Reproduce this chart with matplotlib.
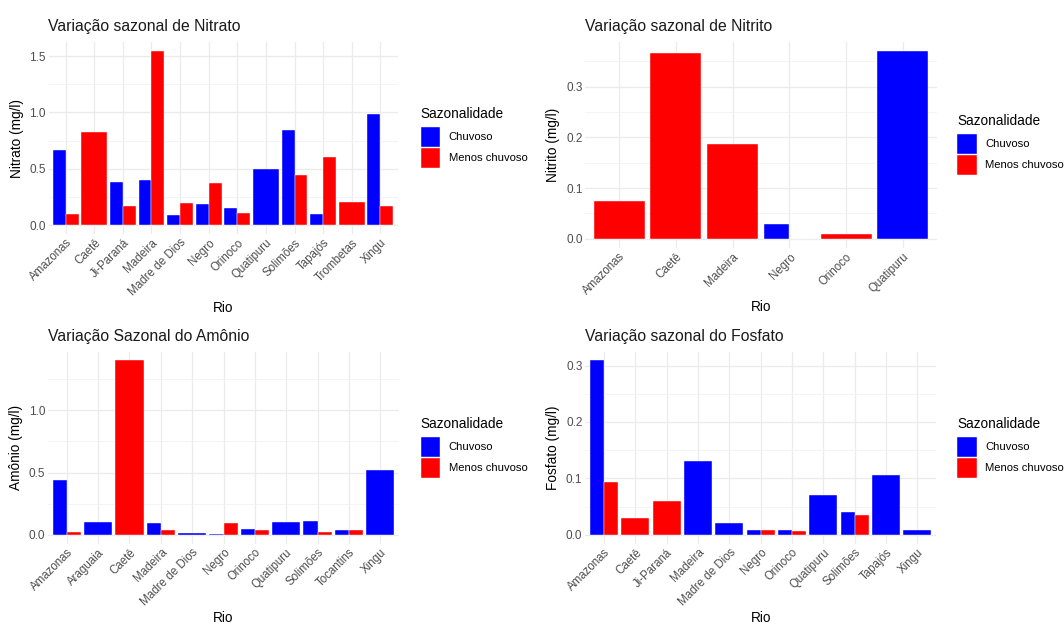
import numpy as np
import matplotlib.pyplot as plt
from matplotlib.patches import Rectangle

plt.rcParams['font.family'] = ['Liberation Sans', 'DejaVu Sans']

# dados (None = sem medição para a estação)
rios_nitrato = ['Amazonas', 'Caetê', 'Ji-Paraná', 'Madeira', 'Madre de Dios', 'Negro',
                'Orinoco', 'Quatipuru', 'Solimões', 'Tapajós', 'Trombetas', 'Xingu']
nitrato_chuvoso = [0.666, None, 0.38, 0.404, 0.094, 0.189, 0.150, 0.501, 0.846, 0.10, None, 0.99]
nitrato_menos = [0.103, 0.831, 0.171, 1.547, 0.195, 0.371, 0.112, None, 0.448, 0.601, 0.203, 0.171]

rios_nitrito = ['Amazonas', 'Caetê', 'Madeira', 'Negro', 'Orinoco', 'Quatipuru']
nitrito_chuvoso = [None, None, None, 0.029, None, 0.370]
nitrito_menos = [0.0745, 0.366, 0.1875, 0.0, 0.0095, None]

rios_amonio = ['Amazonas', 'Araguaia', 'Caetê', 'Madeira', 'Madre de Dios', 'Negro',
               'Orinoco', 'Quatipuru', 'Solimões', 'Tocantins', 'Xingu']
amonio_chuvoso = [0.437, 0.107, None, 0.093, 0.013, 0.008, 0.048, 0.107, 0.112, 0.043, 0.517]
amonio_menos = [0.024, None, 1.397, 0.037, None, 0.099, 0.037, None, 0.024, 0.037, None]

rios_fosfato = ['Amazonas', 'Caetê', 'Ji-Paraná', 'Madeira', 'Madre de Dios', 'Negro',
                'Orinoco', 'Quatipuru', 'Solimões', 'Tapajós', 'Xingu']
fosfato_chuvoso = [0.309, None, None, 0.131, 0.0206, 0.0094, 0.0094, 0.070, 0.0407, 0.1067, 0.0094]
fosfato_menos = [0.093, 0.0306, 0.0607, None, None, 0.0094, 0.0077, None, 0.035, None, None]

cor_chuvoso = '#0000FF'
cor_menos = '#FF0000'
cinza = '#4D4D4D'


def painel(ax, rios, chuvoso, menos, titulo, ylabel, yticks, minor):
    for i, (c, m) in enumerate(zip(chuvoso, menos)):
        if c is not None and m is not None:
            ax.bar(i - 0.225, c, width=0.45, color=cor_chuvoso, edgecolor='white', linewidth=0.3, zorder=3)
            ax.bar(i + 0.225, m, width=0.45, color=cor_menos, edgecolor='white', linewidth=0.3, zorder=3)
        elif c is not None:
            ax.bar(i, c, width=0.9, color=cor_chuvoso, edgecolor='white', linewidth=0.3, zorder=3)
        elif m is not None:
            ax.bar(i, m, width=0.9, color=cor_menos, edgecolor='white', linewidth=0.3, zorder=3)
    n = len(rios)
    ax.set_xlim(-0.6, n - 0.4)
    vmax = max(v for v in chuvoso + menos if v is not None)
    ax.set_ylim(-0.05 * vmax, 1.05 * vmax)
    ax.set_xticks(range(n))
    ax.set_xticklabels(rios, rotation=45, ha='right', rotation_mode='anchor',
                       fontsize=8.3, color=cinza)
    ax.set_yticks(yticks)
    ax.set_yticklabels([f'{t:.1f}' for t in yticks], fontsize=8.5, color=cinza)
    ax.set_yticks(minor, minor=True)
    ax.tick_params(axis='both', which='both', length=0, pad=2)
    ax.grid(True, which='major', color='#EBEBEB', linewidth=0.9, zorder=0)
    ax.grid(True, which='minor', axis='y', color='#F2F2F2', linewidth=0.6, zorder=0)
    for s in ax.spines.values():
        s.set_visible(False)
    ax.set_title(titulo, loc='left', fontsize=11.3, color='#1A1A1A', pad=8)
    ax.set_xlabel('Rio', fontsize=9.8, color='black', labelpad=2)
    ax.set_ylabel(ylabel, fontsize=9.8, color='black', labelpad=4)


def legenda(fig, x, y):
    W, H = fig.get_size_inches() * fig.dpi
    fig.text(x / W, 1 - y / H, 'Sazonalidade', fontsize=9.8, va='center', ha='left')
    for k, (cor, rot) in enumerate([(cor_chuvoso, 'Chuvoso'), (cor_menos, 'Menos chuvoso')]):
        top = y + 13 + k * 21
        fig.patches.append(Rectangle((x / W, 1 - (top + 20) / H), 19.5 / W, 20 / H,
                                     transform=fig.transFigure, facecolor=cor,
                                     edgecolor='white', linewidth=0.3))
        fig.text((x + 28) / W, 1 - (top + 10) / H, rot, fontsize=8.1, va='center', ha='left')


fig = plt.figure(figsize=(10.64, 6.26), dpi=100)
W, H = 1064, 626

ax1 = fig.add_axes([48.5 / W, 1 - 234 / H, 349 / W, 192 / H])
ax2 = fig.add_axes([585.3 / W, 1 - 248 / H, 351.4 / W, 206 / H])
ax3 = fig.add_axes([48 / W, 1 - 543.7 / H, 351 / W, 192 / H])
ax4 = fig.add_axes([585.2 / W, 1 - 543.7 / H, 351 / W, 192 / H])

painel(ax1, rios_nitrato, nitrato_chuvoso, nitrato_menos, 'Variação sazonal de Nitrato',
       'Nitrato (mg/l)', [0, 0.5, 1.0, 1.5], [0.25, 0.75, 1.25])
painel(ax2, rios_nitrito, nitrito_chuvoso, nitrito_menos, 'Variação sazonal de Nitrito',
       'Nitrito (mg/l)', [0, 0.1, 0.2, 0.3], [0.05, 0.15, 0.25, 0.35])
painel(ax3, rios_amonio, amonio_chuvoso, amonio_menos, 'Variação Sazonal do Amônio',
       'Amônio (mg/l)', [0, 0.5, 1.0], [0.25, 0.75, 1.25])
painel(ax4, rios_fosfato, fosfato_chuvoso, fosfato_menos, 'Variação sazonal do Fosfato',
       'Fosfato (mg/l)', [0, 0.1, 0.2, 0.3], [0.05, 0.15, 0.25])

legenda(fig, 420.7, 114)
legenda(fig, 957.3, 121)
legenda(fig, 420.7, 424)
legenda(fig, 957.3, 424)

fig.savefig('out.png', dpi=100, facecolor='white')
